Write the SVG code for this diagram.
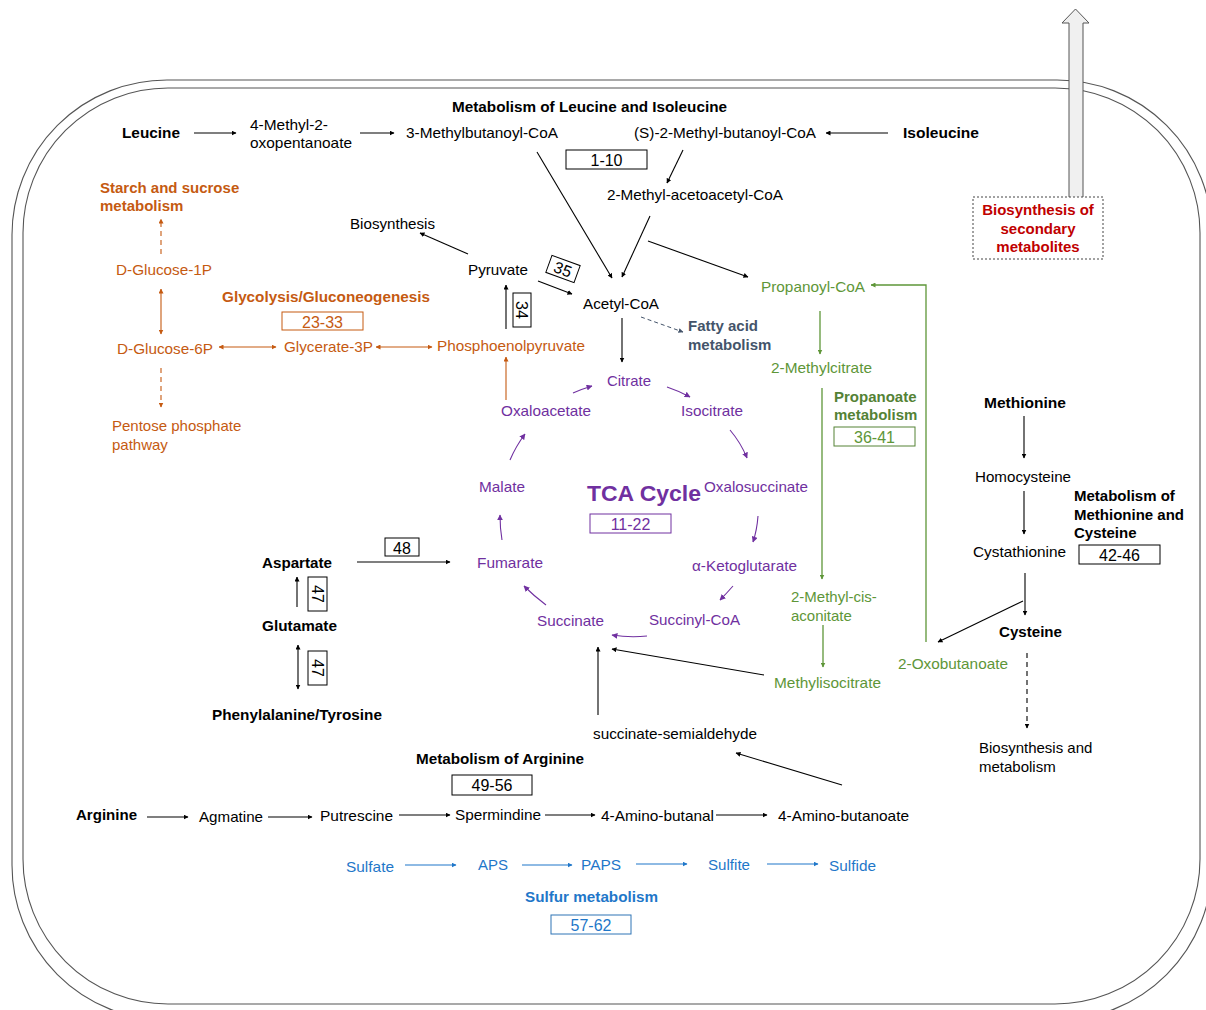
<svg xmlns="http://www.w3.org/2000/svg" width="1206" height="1010" viewBox="0 0 1206 1010">
<defs>
<style>
text{font-family:"Liberation Sans",Arial,sans-serif;font-size:15px;fill:#000}
.b{font-weight:bold}
.o{fill:#c55a11}
.p{fill:#7030a0}
.g{fill:#5e9638}
.gb{fill:#548235;font-weight:bold}
.bl{fill:#1f77c9}
.sl{fill:#44546a;font-weight:bold}
.red{fill:#c00000;font-weight:bold}
.num{font-size:16px}
.big{font-size:22px}
.k{stroke:#000;stroke-width:1.1;fill:none}
.ko{stroke:#c55a11;stroke-width:1.1;fill:none}
.kp{stroke:#7030a0;stroke-width:1.1;fill:none}
.kg{stroke:#5e9638;stroke-width:1.3;fill:none}
.kb{stroke:#1f77c9;stroke-width:1.1;fill:none}
.box{fill:#fff;stroke:#000;stroke-width:1}
.wall{fill:none;stroke:#555;stroke-width:1.1}
</style>
<marker id="ak" viewBox="0 0 10 10" refX="9" refY="5" markerWidth="5" markerHeight="5" orient="auto-start-reverse" markerUnits="userSpaceOnUse"><path d="M0,0 L10,5 L0,10 z" fill="#000"/></marker>
<marker id="ao" viewBox="0 0 10 10" refX="9" refY="5" markerWidth="5" markerHeight="5" orient="auto-start-reverse" markerUnits="userSpaceOnUse"><path d="M0,0 L10,5 L0,10 z" fill="#c55a11"/></marker>
<marker id="ap" viewBox="0 0 10 10" refX="9" refY="5" markerWidth="6" markerHeight="6" orient="auto-start-reverse" markerUnits="userSpaceOnUse"><path d="M0,0 L10,5 L0,10 z" fill="#7030a0"/></marker>
<marker id="ag" viewBox="0 0 10 10" refX="9" refY="5" markerWidth="5" markerHeight="5" orient="auto-start-reverse" markerUnits="userSpaceOnUse"><path d="M0,0 L10,5 L0,10 z" fill="#5e9638"/></marker>
<marker id="ab" viewBox="0 0 10 10" refX="9" refY="5" markerWidth="5" markerHeight="5" orient="auto-start-reverse" markerUnits="userSpaceOnUse"><path d="M0,0 L10,5 L0,10 z" fill="#1f77c9"/></marker>
<marker id="as" viewBox="0 0 10 10" refX="9" refY="5" markerWidth="5" markerHeight="5" orient="auto-start-reverse" markerUnits="userSpaceOnUse"><path d="M0,0 L10,5 L0,10 z" fill="#44546a"/></marker>
</defs>
<rect width="1206" height="1010" fill="#fff"/>

<g id="cell">
<rect class="wall" x="12" y="80" width="1200" height="940" rx="155" ry="155"/>
<rect class="wall" x="23" y="88" width="1177" height="916" rx="145" ry="145"/>
</g>

<g id="export-arrow">
<path d="M1069,200 L1069,23 L1062,23 L1075.5,9 L1089,23 L1083,23 L1083,200 Z" fill="#f0f0f0" stroke="#555" stroke-width="1"/>
</g>

<g id="connectors">
<line class="k" x1="194" y1="133" x2="236" y2="133" marker-end="url(#ak)"/>
<line class="k" x1="360" y1="133" x2="394" y2="133" marker-end="url(#ak)"/>
<line class="k" x1="888" y1="133" x2="826" y2="133" marker-end="url(#ak)"/>
<line class="k" x1="683" y1="150" x2="667" y2="183" marker-end="url(#ak)"/>
<line class="k" x1="537" y1="152" x2="612" y2="278" marker-end="url(#ak)"/>
<line class="k" x1="650" y1="216" x2="622" y2="277" marker-end="url(#ak)"/>
<line class="k" x1="648" y1="241" x2="748" y2="277" marker-end="url(#ak)"/>
<line class="k" x1="468" y1="254" x2="420" y2="233" marker-end="url(#ak)"/>
<line class="k" x1="538" y1="281" x2="572" y2="294" marker-end="url(#ak)"/>
<line class="k" x1="506" y1="329" x2="506" y2="285" marker-end="url(#ak)"/>
<line class="k" x1="622" y1="318" x2="622" y2="362" marker-end="url(#ak)"/>
<line x1="641" y1="317" x2="683" y2="332" stroke="#44546a" stroke-width="1" stroke-dasharray="4,3" marker-end="url(#as)"/>
<line class="ko" x1="161" y1="254" x2="161" y2="219" stroke-dasharray="5,4" marker-end="url(#ao)"/>
<line class="ko" x1="161" y1="289" x2="161" y2="334" marker-start="url(#ao)" marker-end="url(#ao)"/>
<line class="ko" x1="161" y1="368" x2="161" y2="407" stroke="#d98a5a" stroke-dasharray="5,4" marker-end="url(#ao)"/>
<line class="ko" x1="219" y1="347" x2="276" y2="347" marker-start="url(#ao)" marker-end="url(#ao)"/>
<line class="ko" x1="376" y1="347" x2="432" y2="347" marker-start="url(#ao)" marker-end="url(#ao)"/>
<line class="ko" x1="506" y1="400" x2="506" y2="357" marker-end="url(#ao)"/>
<path class="kp" d="M573,393 Q582,389 592,386" marker-end="url(#ap)"/>
<path class="kp" d="M667,387 Q679,391 690,397" marker-end="url(#ap)"/>
<path class="kp" d="M730,430 Q741,443 747,458" marker-end="url(#ap)"/>
<path class="kp" d="M758,516 Q757,530 753,542" marker-end="url(#ap)"/>
<path class="kp" d="M733,586 Q726,594 720,600" marker-end="url(#ap)"/>
<path class="kp" d="M647,636 Q630,638 612,635" marker-end="url(#ap)"/>
<path class="kp" d="M546,605 Q534,596 524,586" marker-end="url(#ap)"/>
<path class="kp" d="M502,540 Q500,528 500,515" marker-end="url(#ap)"/>
<path class="kp" d="M510,460 Q516,446 525,434" marker-end="url(#ap)"/>
<polyline class="kg" points="926,642 926,285 871,285" marker-end="url(#ag)"/>
<line class="kg" x1="820" y1="311" x2="820" y2="354" marker-end="url(#ag)"/>
<line class="kg" x1="822" y1="388" x2="822" y2="579" marker-end="url(#ag)"/>
<line class="kg" x1="823" y1="625" x2="823" y2="667" marker-end="url(#ag)"/>
<line class="k" x1="764" y1="675" x2="612" y2="649" marker-end="url(#ak)"/>
<line class="k" x1="1024" y1="416" x2="1024" y2="458" stroke="#333" marker-end="url(#ak)"/>
<line class="k" x1="1024" y1="491" x2="1024" y2="534" stroke="#333" marker-end="url(#ak)"/>
<line class="k" x1="1025" y1="573" x2="1025" y2="615" stroke="#333" marker-end="url(#ak)"/>
<line class="k" x1="1023" y1="601" x2="938" y2="642" marker-end="url(#ak)"/>
<line class="k" x1="1027" y1="653" x2="1027" y2="728" stroke-dasharray="5,4" marker-end="url(#ak)"/>
<line class="k" x1="357" y1="562" x2="450" y2="562" marker-end="url(#ak)"/>
<line class="k" x1="297" y1="607" x2="297" y2="577" marker-end="url(#ak)"/>
<line class="k" x1="298" y1="645" x2="298" y2="689" marker-start="url(#ak)" marker-end="url(#ak)"/>
<line class="k" x1="598" y1="715" x2="598" y2="647" marker-end="url(#ak)"/>
<line class="k" x1="147" y1="817" x2="188" y2="817" marker-end="url(#ak)"/>
<line class="k" x1="268" y1="817" x2="312" y2="817" marker-end="url(#ak)"/>
<line class="k" x1="399" y1="815" x2="450" y2="815" marker-end="url(#ak)"/>
<line class="k" x1="545" y1="815" x2="595" y2="815" marker-end="url(#ak)"/>
<line class="k" x1="716" y1="815" x2="767" y2="815" marker-end="url(#ak)"/>
<line class="k" x1="842" y1="785" x2="736" y2="753" marker-end="url(#ak)"/>
<line class="kb" x1="405" y1="865" x2="456" y2="865" marker-end="url(#ab)"/>
<line class="kb" x1="522" y1="865" x2="572" y2="865" marker-end="url(#ab)"/>
<line class="kb" x1="636" y1="864" x2="687" y2="864" stroke="#6d9fd6" stroke-width="1.5" marker-end="url(#ab)"/>
<line class="kb" x1="767" y1="864" x2="818" y2="864" stroke="#6d9fd6" stroke-width="1.5" marker-end="url(#ab)"/>
</g>

<g id="leu-title"><text class="b" x="452" y="112" textLength="275" lengthAdjust="spacingAndGlyphs">Metabolism of Leucine and Isoleucine</text></g>
<g id="leucine"><text class="b" x="122" y="138" textLength="58" lengthAdjust="spacingAndGlyphs">Leucine</text></g>
<g id="methyl-oxo"><text x="250" y="130" textLength="78" lengthAdjust="spacingAndGlyphs">4-Methyl-2-</text><text x="250" y="148" textLength="102" lengthAdjust="spacingAndGlyphs">oxopentanoate</text></g>
<g id="methylbutanoyl"><text x="406" y="138" textLength="152" lengthAdjust="spacingAndGlyphs">3-Methylbutanoyl-CoA</text></g>
<g id="s-methyl"><text x="634" y="138" textLength="182" lengthAdjust="spacingAndGlyphs">(S)-2-Methyl-butanoyl-CoA</text></g>
<g id="isoleucine"><text class="b" x="903" y="138" textLength="76" lengthAdjust="spacingAndGlyphs">Isoleucine</text></g>
<g id="box-1-10"><rect class="box" x="566" y="150" width="81" height="19"/><text class="num" x="606.5" y="165.5" text-anchor="middle">1-10</text></g>
<g id="methyl-aceto"><text x="607" y="200" textLength="176" lengthAdjust="spacingAndGlyphs">2-Methyl-acetoacetyl-CoA</text></g>
<g id="biosynthesis"><text x="350" y="229" textLength="85" lengthAdjust="spacingAndGlyphs">Biosynthesis</text></g>
<g id="pyruvate"><text x="468" y="275" textLength="60" lengthAdjust="spacingAndGlyphs">Pyruvate</text></g>
<g id="box-35" transform="translate(563,269) rotate(20)"><rect class="box" x="-15" y="-9" width="30" height="18"/><text class="num" x="0" y="6" text-anchor="middle">35</text></g>
<g id="acetyl-coa"><text x="583" y="309" textLength="76" lengthAdjust="spacingAndGlyphs">Acetyl-CoA</text></g>
<g id="box-34" transform="translate(522,310) rotate(90)"><rect class="box" x="-17" y="-9" width="34" height="18"/><text class="num" x="0" y="6" text-anchor="middle">34</text></g>
<g id="fatty-acid"><text class="sl" x="688" y="331">Fatty acid</text><text class="sl" x="688" y="350">metabolism</text></g>

<g id="starch"><text class="o b" x="100" y="193">Starch and sucrose</text><text class="o b" x="100" y="211">metabolism</text></g>
<g id="glucose-1p"><text class="o" x="116" y="275" textLength="96" lengthAdjust="spacingAndGlyphs">D-Glucose-1P</text></g>
<g id="glucose-6p"><text class="o" x="117" y="354" textLength="96" lengthAdjust="spacingAndGlyphs">D-Glucose-6P</text></g>
<g id="pentose"><text class="o" x="112" y="431">Pentose phosphate</text><text class="o" x="112" y="450">pathway</text></g>
<g id="glycolysis"><text class="o b" x="222" y="302" textLength="208" lengthAdjust="spacingAndGlyphs">Glycolysis/Gluconeogenesis</text></g>
<g id="box-23-33"><rect x="282" y="312" width="81" height="18" fill="#fff" stroke="#c55a11" stroke-width="1"/><text class="num o" x="322.5" y="327.5" text-anchor="middle">23-33</text></g>
<g id="glycerate"><text class="o" x="284" y="352" textLength="89" lengthAdjust="spacingAndGlyphs">Glycerate-3P</text></g>
<g id="pep"><text class="o" x="437" y="351" textLength="148" lengthAdjust="spacingAndGlyphs">Phosphoenolpyruvate</text></g>

<g id="citrate"><text class="p" x="607" y="386" textLength="44" lengthAdjust="spacingAndGlyphs">Citrate</text></g>
<g id="oxaloacetate"><text class="p" x="501" y="416" textLength="90" lengthAdjust="spacingAndGlyphs">Oxaloacetate</text></g>
<g id="isocitrate"><text class="p" x="681" y="416" textLength="62" lengthAdjust="spacingAndGlyphs">Isocitrate</text></g>
<g id="malate"><text class="p" x="479" y="492" textLength="46" lengthAdjust="spacingAndGlyphs">Malate</text></g>
<g id="tca"><text class="p b big" x="587" y="501" textLength="114" lengthAdjust="spacingAndGlyphs">TCA Cycle</text></g>
<g id="box-11-22"><rect x="590" y="514" width="81" height="19" fill="#fff" stroke="#7030a0" stroke-width="1"/><text class="num p" x="630.5" y="529.5" text-anchor="middle">11-22</text></g>
<g id="oxalosuccinate"><text class="p" x="704" y="492" textLength="104" lengthAdjust="spacingAndGlyphs">Oxalosuccinate</text></g>
<g id="ketoglutarate"><text class="p" x="692" y="571" textLength="105" lengthAdjust="spacingAndGlyphs">α-Ketoglutarate</text></g>
<g id="fumarate"><text class="p" x="477" y="568" textLength="66" lengthAdjust="spacingAndGlyphs">Fumarate</text></g>
<g id="succinate"><text class="p" x="537" y="626" textLength="67" lengthAdjust="spacingAndGlyphs">Succinate</text></g>
<g id="succinyl-coa"><text class="p" x="649" y="625" textLength="91" lengthAdjust="spacingAndGlyphs">Succinyl-CoA</text></g>

<g id="propanoyl"><text class="g" x="761" y="292" textLength="104" lengthAdjust="spacingAndGlyphs">Propanoyl-CoA</text></g>
<g id="methylcitrate"><text class="g" x="771" y="373" textLength="101" lengthAdjust="spacingAndGlyphs">2-Methylcitrate</text></g>
<g id="propanoate"><text class="gb" x="834" y="402">Propanoate</text><text class="gb" x="834" y="420">metabolism</text></g>
<g id="box-36-41"><rect x="834" y="427" width="81" height="19" fill="#fff" stroke="#548235" stroke-width="1"/><text class="num g" x="874.5" y="442.5" text-anchor="middle">36-41</text></g>
<g id="methyl-cis"><text class="g" x="791" y="602">2-Methyl-cis-</text><text class="g" x="791" y="621">aconitate</text></g>
<g id="methylisocitrate"><text class="g" x="774" y="688" textLength="107" lengthAdjust="spacingAndGlyphs">Methylisocitrate</text></g>
<g id="oxobutanoate"><text class="g" x="898" y="669" textLength="110" lengthAdjust="spacingAndGlyphs">2-Oxobutanoate</text></g>

<g id="secondary"><rect x="973" y="197" width="130" height="62" fill="#fff" stroke="#444" stroke-width="1" stroke-dasharray="2,2"/><text class="red" x="1038" y="215" text-anchor="middle">Biosynthesis of</text><text class="red" x="1038" y="234" text-anchor="middle">secondary</text><text class="red" x="1038" y="252" text-anchor="middle">metabolites</text></g>

<g id="methionine"><text class="b" x="984" y="408" textLength="82" lengthAdjust="spacingAndGlyphs">Methionine</text></g>
<g id="homocysteine"><text x="975" y="482" textLength="96" lengthAdjust="spacingAndGlyphs">Homocysteine</text></g>
<g id="cystathionine"><text x="973" y="557" textLength="93" lengthAdjust="spacingAndGlyphs">Cystathionine</text></g>
<g id="met-title"><text class="b" x="1074" y="501">Metabolism of</text><text class="b" x="1074" y="520">Methionine and</text><text class="b" x="1074" y="538">Cysteine</text></g>
<g id="box-42-46"><rect class="box" x="1079" y="545" width="81" height="19"/><text class="num" x="1119.5" y="560.5" text-anchor="middle">42-46</text></g>
<g id="cysteine"><text class="b" x="999" y="637" textLength="63" lengthAdjust="spacingAndGlyphs">Cysteine</text></g>
<g id="bio-met"><text x="979" y="753">Biosynthesis and</text><text x="979" y="772">metabolism</text></g>

<g id="aspartate"><text class="b" x="262" y="568" textLength="70" lengthAdjust="spacingAndGlyphs">Aspartate</text></g>
<g id="box-48"><rect class="box" x="385" y="538" width="34" height="18"/><text class="num" x="402" y="553.5" text-anchor="middle">48</text></g>
<g id="box-47a" transform="translate(317.5,594) rotate(90)"><rect class="box" x="-17" y="-9.5" width="34" height="19"/><text class="num" x="0" y="6" text-anchor="middle">47</text></g>
<g id="glutamate"><text class="b" x="262" y="631" textLength="75" lengthAdjust="spacingAndGlyphs">Glutamate</text></g>
<g id="box-47b" transform="translate(317.5,668) rotate(90)"><rect class="box" x="-17" y="-9.5" width="34" height="19"/><text class="num" x="0" y="6" text-anchor="middle">47</text></g>
<g id="phe-tyr"><text class="b" x="212" y="720" textLength="170" lengthAdjust="spacingAndGlyphs">Phenylalanine/Tyrosine</text></g>

<g id="ssa"><text x="593" y="739" textLength="164" lengthAdjust="spacingAndGlyphs">succinate-semialdehyde</text></g>
<g id="arg-title"><text class="b" x="416" y="764" textLength="168" lengthAdjust="spacingAndGlyphs">Metabolism of Arginine</text></g>
<g id="box-49-56"><rect class="box" x="452" y="775" width="80" height="20"/><text class="num" x="492" y="791" text-anchor="middle">49-56</text></g>
<g id="arginine"><text class="b" x="76" y="820" textLength="61" lengthAdjust="spacingAndGlyphs">Arginine</text></g>
<g id="agmatine"><text x="199" y="822" textLength="64" lengthAdjust="spacingAndGlyphs">Agmatine</text></g>
<g id="putrescine"><text x="320" y="821" textLength="73" lengthAdjust="spacingAndGlyphs">Putrescine</text></g>
<g id="spermindine"><text x="455" y="820" textLength="86" lengthAdjust="spacingAndGlyphs">Spermindine</text></g>
<g id="aminobutanal"><text x="601" y="821" textLength="113" lengthAdjust="spacingAndGlyphs">4-Amino-butanal</text></g>
<g id="aminobutanoate"><text x="778" y="821" textLength="131" lengthAdjust="spacingAndGlyphs">4-Amino-butanoate</text></g>

<g id="sulfate"><text class="bl" x="346" y="872" textLength="48" lengthAdjust="spacingAndGlyphs">Sulfate</text></g>
<g id="aps"><text class="bl" x="478" y="870" textLength="30" lengthAdjust="spacingAndGlyphs">APS</text></g>
<g id="paps"><text class="bl" x="581" y="870" textLength="40" lengthAdjust="spacingAndGlyphs">PAPS</text></g>
<g id="sulfite"><text class="bl" x="708" y="870" textLength="42" lengthAdjust="spacingAndGlyphs">Sulfite</text></g>
<g id="sulfide"><text class="bl" x="829" y="871" textLength="47" lengthAdjust="spacingAndGlyphs">Sulfide</text></g>
<g id="sulfur-title"><text class="bl b" x="525" y="902" textLength="133" lengthAdjust="spacingAndGlyphs">Sulfur metabolism</text></g>
<g id="box-57-62"><rect x="551" y="915" width="80" height="19" fill="#fff" stroke="#2e75b6" stroke-width="1"/><text class="num bl" x="591" y="930.5" text-anchor="middle">57-62</text></g>
</svg>
